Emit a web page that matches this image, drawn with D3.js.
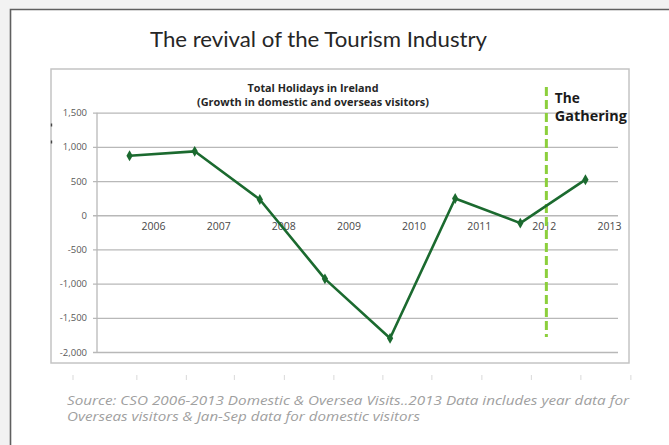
<!DOCTYPE html>
<html>
<head>
<meta charset="utf-8">
<script src="https://cdn.jsdelivr.net/npm/d3@7/dist/d3.min.js"></script>
<style>
  html, body { margin: 0; padding: 0; background: #f2f2f2; }
  svg { display: block; }
</style>
</head>
<body>
<svg id="chart" width="669" height="445"></svg>
<script>
// Total holidays in Ireland: year-on-year growth (thousands)
const years = ["2006", "2007", "2008", "2009", "2010", "2011", "2012", "2013"];
const growth = [870, 935, 230, -930, -1800, 245, -115, 520];
const yTicks = [1500, 1000, 500, 0, -500, -1000, -1500, -2000];
const gatheringAt = 6.4;   // position of "The Gathering" marker, in year-index units
const rulerMarks = [0, 1.29, 2.29, 3.26, 4.27, 5.27, 6.26, 7.25, 8.26, 9.26, 10.26, 11.27];

const svg = d3.select("#chart");
const W = 669, H = 445;

// slide page
svg.append("rect").attr("x", 10).attr("y", 9).attr("width", W).attr("height", H)
  .attr("fill", "#ffffff");
svg.append("path").attr("d", `M10.5,${H} V9.5 H${W}`)
  .attr("fill", "none").attr("stroke", "#5f5f5f").attr("stroke-width", 1.6);

svg.append("text")
  .attr("x", 150).attr("y", 47)
  .attr("textLength", 337).attr("lengthAdjust", "spacingAndGlyphs")
  .attr("font-family", "Lato, 'Open Sans', sans-serif")
  .attr("font-size", 21).attr("fill", "#262626")
  .text("The revival of the Tourism Industry");

// chart frame
svg.append("rect").attr("x", 51).attr("y", 69).attr("width", 578).attr("height", 294)
  .attr("fill", "#ffffff").attr("stroke", "#c4c4c4").attr("stroke-width", 1.5);
svg.selectAll("line.handle").data([125, 142]).join("line")
  .attr("class", "handle")
  .attr("x1", 51.5).attr("x2", 51.5).attr("y1", d => d - 1.5).attr("y2", d => d + 1.5)
  .attr("stroke", "#444").attr("stroke-width", 1.4);

const plot = { left: 97, right: 618, top: 112.7, bottom: 352 };

const x = d3.scaleBand().domain(years).range([plot.left, plot.right]).padding(0);
const xi = d3.scaleLinear().domain([-0.5, years.length - 0.5]).range([plot.left, plot.right]);
const y = d3.scaleLinear().domain([-2000, 1500]).range([plot.bottom, plot.top]);

// gridlines + y axis labels
const fmt = d3.format(",");
const yAxis = d3.axisLeft(y).tickValues(yTicks)
  .tickSize(-(plot.right - plot.left)).tickSizeOuter(0).tickPadding(10)
  .tickFormat(d => fmt(d).replace("\u2212", "-"));
const gy = svg.append("g").attr("transform", `translate(${plot.left},0)`).call(yAxis);
gy.select(".domain").remove();
gy.selectAll(".tick line").attr("stroke", "#b8b8b8").attr("stroke-width", 1.3).attr("x1", -4);
gy.selectAll(".tick text")
  .attr("font-family", "'Open Sans', sans-serif").attr("font-size", 9.5)
  .attr("fill", "#595959");

svg.append("line")
  .attr("x1", plot.left).attr("x2", plot.left).attr("y1", plot.top).attr("y2", plot.bottom)
  .attr("stroke", "#b8b8b8").attr("stroke-width", 1.3);

// year labels beside the zero line
svg.append("g").selectAll("text").data(years).join("text")
  .attr("x", d => x(d) + x.bandwidth() / 2 + 24)
  .attr("y", y(0) + 15)
  .attr("text-anchor", "middle")
  .attr("font-family", "'Open Sans', sans-serif").attr("font-size", 10.5)
  .attr("fill", "#484848")
  .text(d => d);

// The Gathering marker
const gx = xi(gatheringAt);
svg.append("line")
  .attr("x1", gx).attr("x2", gx).attr("y1", 87).attr("y2", 337)
  .attr("stroke", "#8ccf3c").attr("stroke-width", 3)
  .attr("stroke-dasharray", "9,4");
svg.append("text")
  .attr("font-family", "'Open Sans', sans-serif").attr("font-weight", 700)
  .attr("font-size", 14).attr("fill", "#1a1a1a")
  .selectAll("tspan").data([{ t: "The", w: 25 }, { t: "Gathering", w: 72 }]).join("tspan")
  .attr("x", gx + 8.5).attr("y", (d, i) => 103 + i * 18)
  .attr("textLength", d => d.w).attr("lengthAdjust", "spacingAndGlyphs")
  .text(d => d.t);

// growth line
const pts = years.map((yr, i) => ({ yr, v: growth[i] }));
const cx = d => x(d.yr) + x.bandwidth() / 2;
svg.append("path").datum(pts)
  .attr("fill", "none").attr("stroke", "#1b6a2f").attr("stroke-width", 2.6)
  .attr("stroke-linejoin", "round")
  .attr("d", d3.line().x(cx).y(d => y(d.v)));
svg.append("g").selectAll("path").data(pts).join("path")
  .attr("transform", d => `translate(${cx(d)},${y(d.v)})`)
  .attr("d", d3.symbol(d3.symbolDiamond, 34))
  .attr("fill", "#1b6a2f");

// chart title
svg.append("text")
  .attr("text-anchor", "middle")
  .attr("font-family", "'Open Sans', sans-serif").attr("font-weight", 700)
  .attr("font-size", 10.5).attr("fill", "#262626")
  .selectAll("tspan").data([
    { t: "Total Holidays in Ireland", w: 131 },
    { t: "(Growth in domestic and overseas visitors)", w: 232 }
  ]).join("tspan")
  .attr("x", 313).attr("y", (d, i) => 92 + i * 13.5)
  .attr("textLength", d => d.w).attr("lengthAdjust", "spacingAndGlyphs")
  .text(d => d.t);

// faint ruler marks under the chart
const ruler = d3.scaleLinear().domain([0, 1]).range([73, 122.5]);
svg.append("g").selectAll("line").data(rulerMarks).join("line")
  .attr("x1", d => ruler(d)).attr("x2", d => ruler(d))
  .attr("y1", 375).attr("y2", 380)
  .attr("stroke", "#d9d9d9").attr("stroke-width", 1);

// source note
svg.append("text")
  .attr("font-family", "'Open Sans', sans-serif").attr("font-style", "italic")
  .attr("font-size", 12).attr("fill", "#a0a0a0")
  .selectAll("tspan").data([
    { t: "Source:  CSO 2006-2013  Domestic & Oversea Visits..2013 Data includes year data for", w: 562 },
    { t: "Overseas visitors & Jan-Sep data for domestic visitors", w: 353 }
  ]).join("tspan")
  .attr("x", 67).attr("y", (d, i) => 405 + i * 16)
  .attr("textLength", d => d.w).attr("lengthAdjust", "spacingAndGlyphs")
  .text(d => d.t);
</script>
</body>
</html>
